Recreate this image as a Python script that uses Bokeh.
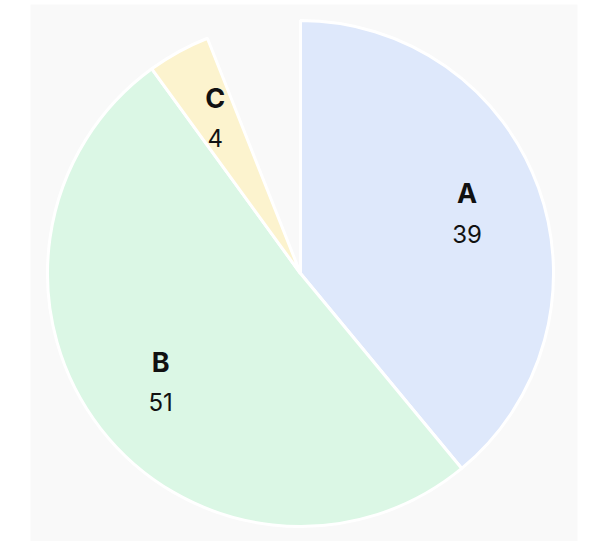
import math
from bokeh.plotting import figure
from bokeh.models import ColumnDataSource, Range1d
from bokeh.core.properties import value
from bokeh.embed import file_html
from bokeh.resources import INLINE

categories = ["A", "B", "C"]
values = [39, 51, 4]
total = 100
colors = ["#dee8fb", "#dbf7e5", "#fcf3ce"]

R = 253
label_frac = 0.70

starts, ends, lx, ly, vals = [], [], [], [], []
cum = 0.0
for v in values:
    a0 = math.pi / 2 - 2 * math.pi * (cum + v) / total
    a1 = math.pi / 2 - 2 * math.pi * cum / total
    starts.append(a0)
    ends.append(a1)
    mid = (a0 + a1) / 2
    lx.append(label_frac * R * math.cos(mid))
    ly.append(label_frac * R * math.sin(mid))
    vals.append(str(v))
    cum += v

src = ColumnDataSource(dict(cat=categories, val=vals, start=starts, end=ends,
                            color=colors, lx=lx, ly=ly))

p = figure(width=590, height=541, output_backend="svg", toolbar_location=None,
           x_range=Range1d(-270, 277), y_range=Range1d(-268, 269),
           min_border_left=30, min_border_right=13, min_border_top=4, min_border_bottom=0)
p.axis.visible = False
p.grid.visible = False
p.outline_line_color = None
p.background_fill_color = "#f9f9f9"
p.border_fill_color = "white"

p.wedge(x=0, y=0, radius=R, start_angle="start", end_angle="end", fill_color="color",
        line_color="white", line_width=3, source=src)

p.text(x="lx", y="ly", text="cat", source=src, text_align="center", text_baseline="middle",
       y_offset=-20, text_font=value("Inter"), text_font_style="bold",
       text_font_size="27px", text_color="#111111")
p.text(x="lx", y="ly", text="val", source=src, text_align="center", text_baseline="middle",
       y_offset=20, text_font=value("Inter"), text_font_size="24px",
       text_color="#111111")

open("out.html", "w").write(file_html(p, INLINE))
